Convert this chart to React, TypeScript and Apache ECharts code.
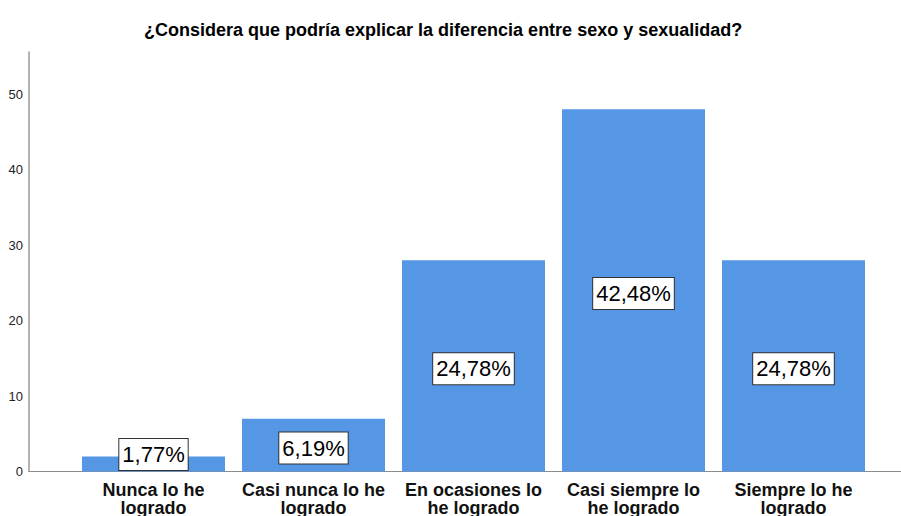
import React, { useEffect, useRef } from "react";
import * as echarts from "echarts";

const categories = [
  "Nunca lo he\nlogrado",
  "Casi nunca lo he\nlogrado",
  "En ocasiones lo\nhe logrado",
  "Casi siempre lo\nhe logrado",
  "Siempre lo he\nlogrado",
];
const counts = [2, 7, 28, 48, 28];
const percentLabels = ["1,77%", "6,19%", "24,78%", "42,48%", "24,78%"];
const yTicks = [0, 10, 20, 30, 40, 50];

const FONT = "'Liberation Sans', Arial, sans-serif";
const BAR_COLOR = "#5596E5";
const Y_MAX = 55.6;

export default function App() {
  const ref = useRef<HTMLDivElement>(null);
  useEffect(() => {
    if (!ref.current) return;
    const chart = echarts.init(ref.current, undefined, { renderer: "svg" });
    const data = counts.map((v, i) => {
      const item: any = { value: v };
      if (i === 0) item.label = { offset: [0, -9.5] };
      return item;
    });
    chart.setOption({
      animation: false,
      backgroundColor: "#ffffff",
      title: {
        text: "¿Considera que podría explicar la diferencia entre sexo y sexualidad?",
        left: 139,
        top: 16,
        textStyle: { fontFamily: FONT, fontSize: 18, fontWeight: "bold", color: "#000" },
      },
      grid: [
        { left: 29, right: 0, top: 52, bottom: 44.5, containLabel: false, outerBoundsMode: "none" },
        { left: 73.5, width: 800, top: 52, bottom: 44.5, containLabel: false, outerBoundsMode: "none" },
      ],
      xAxis: [
        {
          type: "value",
          gridIndex: 0,
          min: 0,
          max: 1,
          axisLine: { show: true, lineStyle: { color: "#8c8c8c", width: 1 } },
          axisTick: { show: false },
          axisLabel: { show: false },
          splitLine: { show: false },
        },
        {
          type: "category",
          gridIndex: 1,
          data: categories,
          axisLine: { show: false },
          axisTick: { show: false },
          axisLabel: {
            interval: 0,
            margin: 9,
            fontFamily: FONT,
            fontSize: 18,
            fontWeight: "bold",
            lineHeight: 18.5,
            color: "#111",
          },
        },
      ],
      yAxis: [
        {
          type: "value",
          gridIndex: 0,
          min: yTicks[0],
          max: Y_MAX,
          interval: yTicks[1] - yTicks[0],
          axisLine: { show: true, lineStyle: { color: "#a0a0a0", width: 1.6 } },
          axisTick: { show: false },
          splitLine: { show: false },
          axisLabel: {
            margin: 6,
            fontFamily: FONT,
            fontSize: 13,
            color: "#222",
            showMaxLabel: false,
          },
        },
        {
          type: "value",
          gridIndex: 1,
          min: 0,
          max: Y_MAX,
          show: false,
          splitLine: { show: false },
        },
      ],
      series: [
        {
          type: "bar",
          xAxisIndex: 1,
          yAxisIndex: 1,
          data,
          barWidth: 143,
          itemStyle: { color: BAR_COLOR },
          label: {
            show: true,
            position: "inside",
            offset: [0, 3],
            formatter: (p: any) => percentLabels[p.dataIndex],
            fontFamily: FONT,
            fontSize: 22,
            color: "#000",
            backgroundColor: "#ffffff",
            borderColor: "#333",
            borderWidth: 1,
            padding: [4, 3, 3, 3],
            lineHeight: 24,
          },
        },
      ],
    });
    return () => chart.dispose();
  }, []);
  return <div ref={ref} style={{ width: 901, height: 516, position: "fixed", left: 0, top: 0 }} />;
}
